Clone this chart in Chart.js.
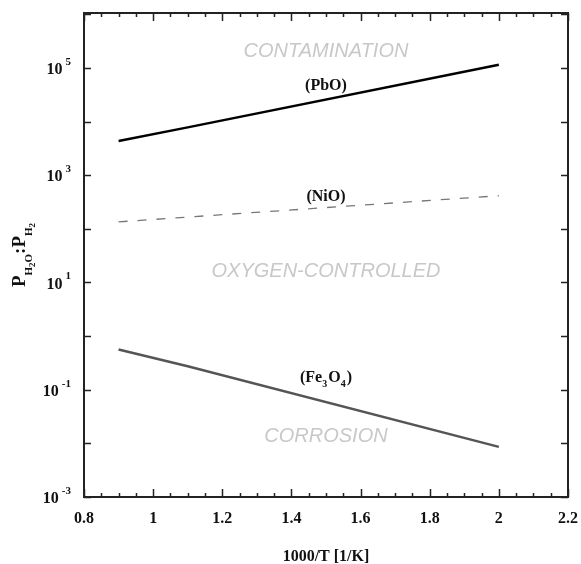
<!DOCTYPE html>
<html>
<head>
<meta charset="utf-8">
<script src="https://cdn.jsdelivr.net/npm/chart.js@4/dist/chart.umd.min.js"></script>
<style>
  html, body { margin: 0; padding: 0; background: #fff; }
  #wrap { width: 581px; height: 564px; position: relative; }
</style>
</head>
<body>
<div id="wrap"><canvas id="phaseChart"></canvas></div>
<script>
// 1000/T values where each equilibrium line was evaluated
const invTemp = [0.9, 1.1, 2.0];

// P(H2O):P(H2) equilibrium ratios for each oxide
const pbo = [4350, 7800, 115000];
const nio = [135, 166, 415];
const fe3o4 = [0.565, 0.275, 0.0086];

// axis ticks
const xTickValues = [0.8, 1.0, 1.2, 1.4, 1.6, 1.8, 2.0, 2.2];
const xTickLabels = ['0.8', '1', '1.2', '1.4', '1.6', '1.8', '2', '2.2'];
const yDecades = [-3, -2, -1, 0, 1, 2, 3, 4, 5, 6];
const yLabelExps = [-3, -1, 1, 3, 5];

const SERIF = '"Liberation Serif", "Times New Roman", serif';
const SANS = '"Liberation Sans", Arial, sans-serif';
const FRAME = '#222';

const toPoints = ys => invTemp.map((x, i) => ({ x: x, y: ys[i] }));

// text placed on the diagram, anchored in data coordinates
const regionText = [
    { text: 'CONTAMINATION', x: 1.5, y: 2e5 },
    { text: 'OXYGEN-CONTROLLED', x: 1.5, y: 15.8 },
    { text: 'CORROSION', x: 1.5, y: 0.0132 }
];
const lineText = [
    { parts: [['(PbO)', 0]], x: 1.5, y: 45700 },
    { parts: [['(NiO)', 0]], x: 1.5, y: 390 },
    { parts: [['(Fe', 0], ['3', 1], ['O', 0], ['4', 1], [')', 0]], x: 1.5, y: 0.166 }
];

// frame, inward ticks, y labels with exponents, titles and annotations
const decorPlugin = {
    id: 'decor',
    afterDatasetsDraw(chart) {
        const ctx = chart.ctx;
        const xs = chart.scales.x;
        const ys = chart.scales.y;
        const a = chart.chartArea;

        ctx.save();
        ctx.strokeStyle = FRAME;
        ctx.lineWidth = 1.5;
        ctx.beginPath();
        for (let i = 0; i <= 28; i++) {
            const px = Math.round(xs.getPixelForValue(0.8 + i * 0.05)) + 0.5;
            const len = i % 4 === 0 ? 8 : 4;
            ctx.moveTo(px, a.bottom); ctx.lineTo(px, a.bottom - len);
            ctx.moveTo(px, a.top); ctx.lineTo(px, a.top + len);
        }
        yDecades.forEach(e => {
            const py = Math.round(ys.getPixelForValue(Math.pow(10, e))) + 0.5;
            ctx.moveTo(a.left, py); ctx.lineTo(a.left + 7, py);
            ctx.moveTo(a.right, py); ctx.lineTo(a.right - 7, py);
        });
        ctx.stroke();

        ctx.lineWidth = 2;
        ctx.strokeRect(a.left, a.top, a.right - a.left, a.bottom - a.top);

        // y tick labels: 10 with raised exponent
        ctx.fillStyle = '#111';
        ctx.textBaseline = 'middle';
        yLabelExps.forEach(e => {
            const py = ys.getPixelForValue(Math.pow(10, e));
            const exp = e < 0 ? '-' + Math.abs(e) : String(e);
            ctx.font = 'bold 11px ' + SERIF;
            const we = ctx.measureText(exp).width;
            const right = a.left - 13;
            ctx.textAlign = 'left';
            ctx.fillText(exp, right - we, py - 6);
            ctx.font = 'bold 16px ' + SERIF;
            ctx.textAlign = 'right';
            ctx.fillText('10', right - we - 3, py + 2);
        });

        // y title: P_{H2O} : P_{H2}
        const runs = [
            ['P', 19, 0], ['H', 11, 7], ['2', 9, 10], ['O', 11, 7],
            [':', 19, 0],
            ['P', 19, 0], ['H', 11, 7], ['2', 9, 10]
        ];
        let total = 0;
        runs.forEach(r => { ctx.font = 'bold ' + r[1] + 'px ' + SERIF; r.push(ctx.measureText(r[0]).width); total += r[3]; });
        ctx.translate(25, (a.top + a.bottom) / 2);
        ctx.rotate(-Math.PI / 2);
        ctx.textAlign = 'left';
        ctx.textBaseline = 'alphabetic';
        let cx = -total / 2;
        runs.forEach(r => {
            ctx.font = 'bold ' + r[1] + 'px ' + SERIF;
            ctx.fillText(r[0], cx, r[2]);
            cx += r[3];
        });
        ctx.setTransform(1, 0, 0, 1, 0, 0);

        // region names
        ctx.font = 'italic 20px ' + SANS;
        ctx.fillStyle = '#c8c8c8';
        ctx.textAlign = 'center';
        ctx.textBaseline = 'middle';
        regionText.forEach(t => {
            ctx.fillText(t.text, xs.getPixelForValue(t.x), ys.getPixelForValue(t.y));
        });

        // oxide names on the lines
        ctx.fillStyle = '#111';
        ctx.textAlign = 'left';
        lineText.forEach(t => {
            let w = 0;
            t.parts.forEach(p => { ctx.font = 'bold ' + (p[1] ? 10 : 16) + 'px ' + SERIF; w += ctx.measureText(p[0]).width + (p[1] ? 1 : 0); });
            let px = xs.getPixelForValue(t.x) - w / 2;
            const py = ys.getPixelForValue(t.y);
            t.parts.forEach(p => {
                ctx.font = 'bold ' + (p[1] ? 10 : 16) + 'px ' + SERIF;
                ctx.fillText(p[0], px, py + (p[1] ? 6 : 0));
                px += ctx.measureText(p[0]).width + (p[1] ? 1 : 0);
            });
        });
        ctx.restore();
    }
};

new Chart(document.getElementById('phaseChart'), {
    type: 'line',
    data: {
        datasets: [
            {
                label: 'PbO',
                data: toPoints(pbo),
                borderColor: '#000',
                borderWidth: 2.5,
                pointRadius: 0,
                fill: false
            },
            {
                label: 'NiO',
                data: toPoints(nio),
                borderColor: '#777',
                borderWidth: 1.3,
                borderDash: [9, 10],
                pointRadius: 0,
                fill: false
            },
            {
                label: 'Fe3O4',
                data: toPoints(fe3o4),
                borderColor: '#555',
                borderWidth: 2.5,
                pointRadius: 0,
                fill: false
            }
        ]
    },
    options: {
        responsive: true,
        maintainAspectRatio: false,
        animation: false,
        layout: { padding: { top: 13, right: 13, left: 0, bottom: 0 } },
        plugins: {
            legend: { display: false },
            tooltip: { enabled: false }
        },
        scales: {
            x: {
                type: 'linear',
                min: 0.8,
                max: 2.2,
                grid: { display: false, drawTicks: false },
                border: { display: false },
                afterBuildTicks: scale => {
                    scale.ticks = xTickValues.map(v => ({ value: v }));
                },
                afterFit: scale => {
                    scale.height = 67;
                    scale.paddingLeft = 0;
                    scale.paddingRight = 0;
                },
                ticks: {
                    autoSkip: false,
                    maxRotation: 0,
                    padding: 12,
                    color: '#111',
                    font: { family: SERIF, size: 16, weight: 'bold' },
                    callback: (v, i) => xTickLabels[i]
                },
                title: {
                    display: true,
                    text: '1000/T [1/K]',
                    color: '#111',
                    padding: { top: 0, bottom: -2 },
                    font: { family: SERIF, size: 16, weight: 'bold' }
                }
            },
            y: {
                type: 'logarithmic',
                min: 1e-3,
                max: 1.06e6,
                grid: { display: false, drawTicks: false },
                border: { display: false },
                ticks: { display: false },
                afterFit: scale => { scale.width = 84; }
            }
        }
    },
    plugins: [decorPlugin]
});
</script>
</body>
</html>
